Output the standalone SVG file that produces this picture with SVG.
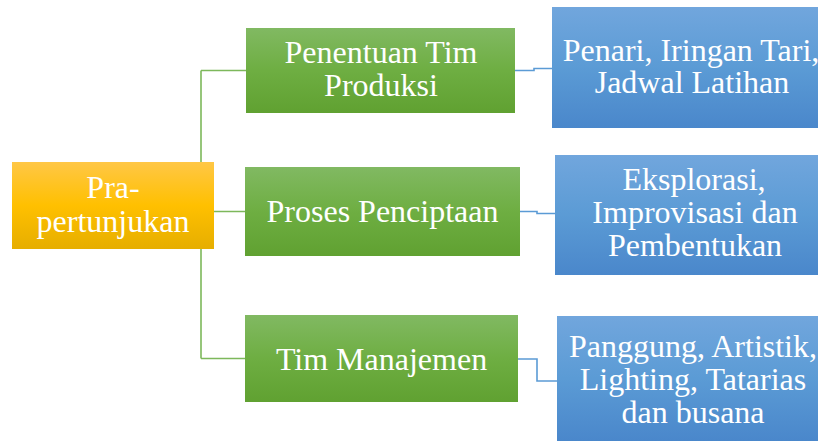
<svg xmlns="http://www.w3.org/2000/svg" width="818" height="441" viewBox="0 0 818 441">
<defs>
<linearGradient id="gO" x1="0" y1="0" x2="0" y2="1"><stop offset="0" stop-color="#FFC746"/><stop offset="0.5" stop-color="#FFC000"/><stop offset="1" stop-color="#E6AE00"/></linearGradient>
<linearGradient id="gG" x1="0" y1="0" x2="0" y2="1"><stop offset="0" stop-color="#81B962"/><stop offset="0.5" stop-color="#6EAE42"/><stop offset="1" stop-color="#60A131"/></linearGradient>
<linearGradient id="gB" x1="0" y1="0" x2="0" y2="1"><stop offset="0" stop-color="#71A6DD"/><stop offset="0.5" stop-color="#5B9BD5"/><stop offset="1" stop-color="#4A87CB"/></linearGradient>
</defs>
<style>
text{font-family:"Liberation Serif","Times New Roman",serif;font-size:32px;fill:#fff;text-anchor:middle}
.lg{fill:none;stroke:#7DB85B;stroke-width:1.6}
.lb{fill:none;stroke:#5B9BD5;stroke-width:1.6}
</style>
<g id="connectors">
<path class="lg" d="M201 70.5 V358.5 M201 70.5 H246 M201 358.5 H245 M214 211.5 H245"/>
<path class="lb" d="M515 70.5 H534 V68.5 H552"/>
<path class="lb" d="M520 211.5 H537 V213.5 H555"/>
<path class="lb" d="M518 359 H537 V381 H557"/>
</g>
<g id="n-pra"><rect x="12" y="162" width="202" height="87" fill="url(#gO)"/><text x="113" y="198">Pra-</text><text x="113" y="232">pertunjukan</text></g>
<g id="n-tim-produksi"><rect x="246" y="28" width="269" height="85" fill="url(#gG)"/><text x="381" y="63">Penentuan Tim</text><text x="381" y="96">Produksi</text></g>
<g id="n-proses"><rect x="245" y="167" width="275" height="89" fill="url(#gG)"/><text x="382.5" y="222">Proses Penciptaan</text></g>
<g id="n-manajemen"><rect x="245" y="315" width="273" height="87" fill="url(#gG)"/><text x="381.5" y="370">Tim Manajemen</text></g>
<g id="n-penari"><rect x="552" y="7" width="270" height="121" fill="url(#gB)"/><text x="691" y="61">Penari, Iringan Tari,</text><text x="692" y="93">Jadwal Latihan</text></g>
<g id="n-eksplorasi"><rect x="555" y="155" width="267" height="120" fill="url(#gB)"/><text x="694" y="190">Eksplorasi,</text><text x="695" y="223">Improvisasi dan</text><text x="695" y="256">Pembentukan</text></g>
<g id="n-panggung"><rect x="557" y="316" width="265" height="125" fill="url(#gB)"/><text x="693" y="357">Panggung, Artistik,</text><text x="693" y="390">Lighting, Tatarias</text><text x="693" y="423">dan busana</text></g>
</svg>
